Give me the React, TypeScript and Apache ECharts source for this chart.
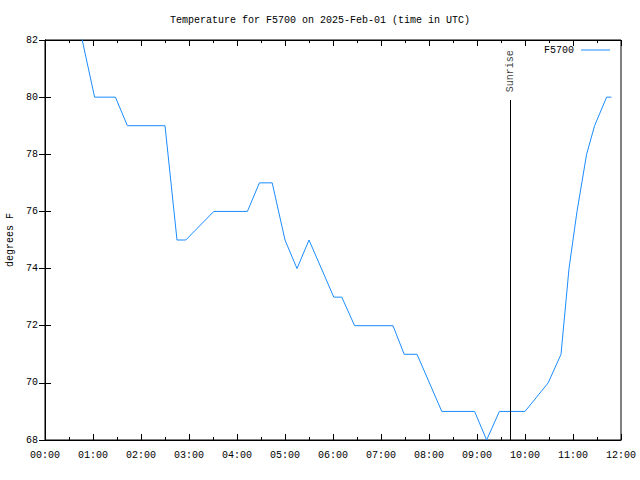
import React, { useEffect, useRef } from "react";
import * as echarts from "echarts";

const times = [
  "00:31", "01:02", "01:28", "01:43", "02:30", "02:45", "02:56", "03:31", "04:13", "04:28",
  "04:44", "05:00", "05:15", "05:30", "06:01", "06:11", "06:27", "07:15", "07:29", "07:45",
  "08:16", "08:57", "09:12", "09:28", "10:00", "10:29", "10:45", "10:55", "11:05", "11:17",
  "11:27", "11:42", "11:48",
];
const temps = [
  84, 80, 80, 79, 79, 75, 75, 76, 76, 77,
  77, 75, 74, 75, 73, 73, 72, 72, 71, 71,
  69, 69, 68, 69, 69, 70, 71, 74, 76, 78,
  79, 80, 80,
];
const xTickLabels = ["00:00","01:00","02:00","03:00","04:00","05:00","06:00","07:00","08:00","09:00","10:00","11:00","12:00"];
const sunriseTime = "09:42";
const seriesName = "F5700";
const titleText = "Temperature for F5700 on 2025-Feb-01 (time in UTC)";

const toHours = (s: string) => {
  const [h, m] = s.split(":").map(Number);
  return h + m / 60;
};

const FONT = "Liberation Mono";
const LINE_COLOR = "#1a8cff";

export default function App() {
  const ref = useRef<HTMLDivElement>(null);
  useEffect(() => {
    if (!ref.current) return;
    const chart = echarts.init(ref.current, null, { renderer: "svg" });
    const data = times.map((t, i) => [toHours(t), temps[i]]);
    const sr = toHours(sunriseTime);
    const txt = { fontFamily: FONT, fontSize: 10, color: "#000" };
    const xBase = {
      type: "value" as const,
      min: 0,
      max: 12,
      interval: 1,
      axisLine: { show: true, lineStyle: { color: "#000", width: 1 } },
      axisTick: { show: true, inside: true, length: 6, lineStyle: { color: "#000" } },
      minorTick: { show: true, splitNumber: 2, length: 3, lineStyle: { color: "#000" } },
      splitLine: { show: false },
    };
    const yBase = {
      type: "value" as const,
      min: 68,
      max: 82,
      interval: 2,
      axisLine: { show: true, lineStyle: { color: "#000", width: 1 } },
      axisTick: { show: true, inside: true, length: 6, lineStyle: { color: "#000" } },
      splitLine: { show: false },
    };
    chart.setOption({
      animation: false,
      backgroundColor: "#fff",
      title: {
        text: titleText,
        left: "center",
        top: 15,
        textStyle: { fontFamily: FONT, fontSize: 10, fontWeight: "normal", color: "#000" },
        padding: 0,
      },
      grid: {
        left: 45, right: 19, top: 40, bottom: 40,
        containLabel: false,
        outerBoundsMode: "none",
        show: true, borderColor: "#000", borderWidth: 1,
      },
      legend: {
        data: [{ name: seriesName, icon: "rect" }],
        right: 30,
        top: 45,
        align: "right",
        itemWidth: 29,
        itemHeight: 1,
        itemGap: 5,
        padding: 0,
        itemStyle: { color: LINE_COLOR, borderWidth: 0 },
        textStyle: { ...txt, padding: [0, 2, 0, 0] },
      },
      xAxis: [
        {
          ...xBase,
          position: "bottom",
          axisLabel: {
            ...txt,
            margin: 10,
            formatter: (v: number) => xTickLabels[Math.round(v)] ?? "",
          },
        },
        { ...xBase, position: "top", axisLabel: { show: false } },
      ],
      yAxis: [
        {
          ...yBase,
          position: "left",
          name: "degrees F",
          nameLocation: "middle",
          nameGap: 29,
          nameRotate: 90,
          nameTextStyle: txt,
          axisLabel: { ...txt, margin: 7 },
        },
        { ...yBase, position: "right", axisLabel: { show: false } },
      ],
      series: [
        {
          name: seriesName,
          type: "line",
          data,
          showSymbol: false,
          symbol: "none",
          clip: true,
          lineStyle: { color: LINE_COLOR, width: 1 },
          itemStyle: { color: LINE_COLOR },
          markLine: {
            silent: true,
            symbol: "none",
            label: { show: false },
            lineStyle: { color: "#000", width: 1, type: "solid" },
            data: [[{ coord: [sr, 68] }, { coord: [sr, 79.9] }]],
          },
        },
        {
          name: "sunrise-label",
          type: "scatter",
          symbolSize: 0,
          data: [[sr, 80.91]],
          silent: true,
          itemStyle: { color: "#000" },
          label: {
            show: true,
            position: "inside",
            rotate: 90,
            formatter: "Sunrise",
            ...txt,
          },
        },
      ],
    });
    return () => chart.dispose();
  }, []);
  return (
    <div
      ref={ref}
      style={{ position: "fixed", left: 0, top: 0, width: 640, height: 480, background: "#fff" }}
    />
  );
}
